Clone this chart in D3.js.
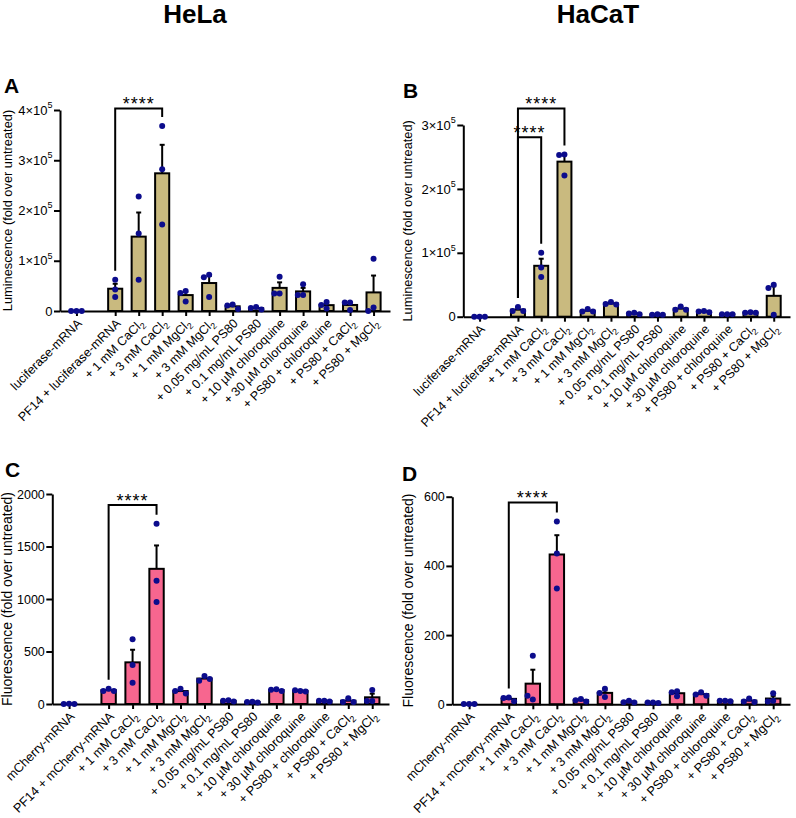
<!DOCTYPE html>
<html><head><meta charset="utf-8">
<script src="https://cdn.jsdelivr.net/npm/d3@7"></script>
<style>
body{margin:0;background:#fff}
svg{display:block}
text{font-family:"Liberation Sans",Arial,Helvetica,sans-serif;fill:#000}
</style>
</head><body>
<svg id="chart" width="796" height="818"></svg>
<script>
// ---------- DATA ----------
const lucCategories = ["luciferase-mRNA","PF14 + luciferase-mRNA","+ 1 mM CaCl_2","+ 3 mM CaCl_2","+ 1 mM MgCl_2","+ 3 mM MgCl_2","+ 0.05 mg/mL PS80","+ 0.1 mg/mL PS80","+ 10 µM chloroquine","+ 30 µM chloroquine","+ PS80 + chloroquine","+ PS80 + CaCl_2","+ PS80 + MgCl_2"];
const cherryCategories = ["mCherry-mRNA","PF14 + mCherry-mRNA","+ 1 mM CaCl_2","+ 3 mM CaCl_2","+ 1 mM MgCl_2","+ 3 mM MgCl_2","+ 0.05 mg/mL PS80","+ 0.1 mg/mL PS80","+ 10 µM chloroquine","+ 30 µM chloroquine","+ PS80 + chloroquine","+ PS80 + CaCl_2","+ PS80 + MgCl_2"];

// replicate values (3 per condition)
const helaLuc = [[0,0,0],[62000,43000,28000],[228000,154000,62000],[368000,282000,172000],[40000,36000,19000],[72000,67000,28000],[13000,11000,4000],[8000,6000,3000],[68000,35000,35000],[53000,32000,32000],[18000,12000,5000],[17000,17000,2000],[104000,7000,0]];
const hacatLuc = [[0,0,0],[15000,9000,9000],[100000,77000,62000],[254000,253000,221000],[12000,8000,8000],[23000,20000,19000],[6000,5000,4000],[4000,3000,3000],[16000,11000,11000],[9000,8000,7000],[4000,4000,4000],[7000,6000,6000],[50000,45000,3000]];
const helaCherry = [[2,1,1],[145,125,125],[616,371,203],[1717,1174,971],[145,125,100],[267,222,238],[35,30,25],[22,20,15],[140,135,125],[125,130,120],[32,30,25],[54,20,20],[133,29,29]];
const hacatCherry = [[1,1,1],[20,18,9],[140,14,25],[528,436,335],[15,12,8],[45,21,33],[10,6,5],[5,5,4],[38,35,23],[35,28,25],[10,10,9],[17,8,7],[32,10,8]];

const lucTicksA = [0,100000,200000,300000,400000];
const lucTicksB = [0,100000,200000,300000];
const cherryTicksC = [0,500,1000,1500,2000];
const cherryTicksD = [0,200,400,600];

// significance comparisons: [from index, to index, bracket level in data units, label]
const sigA = [[1,3,403000,"****"]];
const sigB = [[1,3,326000,"****"],[1,2,281000,"****"]];
const sigC = [[1,3,1895,"****"]];
const sigD = [[1,3,583,"****"]];

const cellTitles = ["HeLa","HaCaT"];

// ---------- STYLE / LAYOUT ----------
const tan = "#c9ba7f", pink = "#f7668f", dotColor = "#0c0c8c";
const svg = d3.select("#chart");

function supFmt(v){
  if (v === 0) return [["0",false]];
  if (v >= 100000) return [[String(v/100000)+"×10",false],["5",true]];
  return [[String(v),false]];
}

function drawPanel(cfg){
  const g = svg.append("g");
  const x = d3.scaleLinear().domain([-0.7, cfg.cats.length - 1 + 0.65 + 0.7]).range([cfg.x0, cfg.x1]);
  const slot = i => i === 0 ? 0 : i + 0.65;
  const y = d3.scaleLinear().domain([0, cfg.ticks[cfg.ticks.length-1]]).range([cfg.yBase, cfg.yTop]);
  const step = x(1) - x(0);
  const bw = step * 0.6;

  const stats = cfg.data.map((vals,i) => {
    const m = d3.mean(vals);
    const sem = d3.deviation(vals) / Math.sqrt(vals.length);
    return {i, vals, mean: m, sem: sem || 0, cx: x(slot(i))};
  });

  // bars
  g.selectAll("rect.bar").data(stats).join("rect")
    .attr("x", d => d.cx - bw/2).attr("width", bw)
    .attr("y", d => y(d.mean)).attr("height", d => y(0) - y(d.mean))
    .attr("fill", cfg.color).attr("stroke", "#000").attr("stroke-width", 2);

  // error bars (upward SEM)
  const eb = g.selectAll("g.eb").data(stats.filter(d => d.sem > 0)).join("g");
  eb.append("line").attr("x1", d => d.cx).attr("x2", d => d.cx)
    .attr("y1", d => y(d.mean)).attr("y2", d => y(d.mean + d.sem))
    .attr("stroke", "#000").attr("stroke-width", 2);
  eb.append("line").attr("x1", d => d.cx - 2.5).attr("x2", d => d.cx + 2.5)
    .attr("y1", d => y(d.mean + d.sem)).attr("y2", d => y(d.mean + d.sem))
    .attr("stroke", "#000").attr("stroke-width", 2);

  // y axis
  const ya = g.append("g").attr("transform", `translate(${cfg.x0},0)`)
    .call(d3.axisLeft(y).tickValues(cfg.ticks).tickSize(6).tickSizeOuter(0).tickPadding(2).tickFormat(""));
  ya.select(".domain").attr("stroke-width", 2).attr("stroke", "#000");
  ya.selectAll(".tick line").attr("stroke-width", 2).attr("stroke", "#000");
  ya.selectAll(".tick text").each(function(v){
    const t = d3.select(this).attr("font-size", cfg.tickFont).attr("fill", "#000").attr("x", -7.5);
    supFmt(v).forEach(([s, sup]) => {
      const ts = t.append("tspan").text(s);
      if (sup) ts.attr("font-size", 9).attr("dy", "-0.75em");
    });
  });

  // x axis
  const xa = g.append("g").attr("transform", `translate(0,${cfg.yBase})`)
    .call(d3.axisBottom(x).tickValues(cfg.cats.map((c,i) => slot(i))).tickSize(5).tickSizeOuter(0).tickFormat(""));
  xa.select(".domain").attr("stroke-width", 2).attr("stroke", "#000");
  xa.selectAll(".tick line").attr("stroke-width", 2).attr("stroke", "#000");

  // category labels
  cfg.cats.forEach((c,i) => {
    const t = g.append("text")
      .attr("transform", `translate(${x(slot(i)) + 3},${cfg.yBase + 10}) rotate(-45)`)
      .attr("text-anchor", "end").attr("font-size", cfg.catFont).attr("dy", "0.35em");
    const parts = c.split("_");
    t.append("tspan").text(parts[0]);
    if (parts[1]) t.append("tspan").text(parts[1]).attr("font-size", cfg.catFont * 0.7).attr("dy", "0.35em");
  });

  // points (simple swarm)
  stats.forEach(d => {
    const placed = [];
    const dstep = 5.3;
    d.vals.forEach(v => {
      const py = y(v);
      let off = 0;
      for (const o of [0, -dstep, dstep, -2*dstep, 2*dstep]) {
        if (placed.every(p => Math.hypot(p.x - o, p.y - py) >= dstep - 0.2)) { off = o; break; }
      }
      placed.push({x: off, y: py});
      g.append("circle").attr("cx", d.cx + off).attr("cy", py).attr("r", 3).attr("fill", dotColor);
    });
  });

  // significance brackets
  cfg.sig.forEach(([a, b, lvl, lab]) => {
    const xa1 = stats[a].cx, xb1 = stats[b].cx, yl = y(lvl);
    const top = s => y(Math.max(d3.max(s.vals), s.mean + s.sem)) - 9;
    g.append("path")
      .attr("d", `M${xa1},${top(stats[a])}V${yl}H${xb1}V${top(stats[b])}`)
      .attr("fill", "none").attr("stroke", "#000").attr("stroke-width", 2);
    g.append("text").attr("x", (xa1 + xb1)/2).attr("y", yl + 1.5)
      .attr("text-anchor", "middle").attr("font-size", 18).attr("letter-spacing", 1).text(lab);
  });

  // y-axis title
  g.append("text")
    .attr("transform", `translate(${cfg.ylabX},${(cfg.yTop + cfg.yBase)/2}) rotate(-90)`)
    .attr("text-anchor", "middle").attr("dy", "0.35em").attr("font-size", cfg.ylabFont).text(cfg.ylab);

  // panel letter
  g.append("text").attr("x", cfg.letterX).attr("y", cfg.letterY)
    .attr("font-size", 21).attr("font-weight", "bold").text(cfg.letter);
}

drawPanel({cats: lucCategories, data: helaLuc, ticks: lucTicksA, sig: sigA, color: tan, tickFont: 13, catFont: 12.5, ylabFont: 12.8,
  x0: 60, x1: 390, yTop: 110, yBase: 311, ylabX: 8, ylab: "Luminescence (fold over untreated)", letter: "A", letterX: 4, letterY: 93});
drawPanel({cats: lucCategories, data: hacatLuc, ticks: lucTicksB, sig: sigB, color: tan, tickFont: 13, catFont: 12.5, ylabFont: 12.8,
  x0: 463.3, x1: 790, yTop: 125, yBase: 316.7, ylabX: 408, ylab: "Luminescence (fold over untreated)", letter: "B", letterX: 403, letterY: 98});
drawPanel({cats: cherryCategories, data: helaCherry, ticks: cherryTicksC, sig: sigC, color: pink, tickFont: 12.5, catFont: 12.8, ylabFont: 14,
  x0: 52.3, x1: 389, yTop: 494, yBase: 704, ylabX: 7, ylab: "Fluorescence (fold over untreated)", letter: "C", letterX: 5, letterY: 477});
drawPanel({cats: cherryCategories, data: hacatCherry, ticks: cherryTicksD, sig: sigD, color: pink, tickFont: 12.5, catFont: 12.8, ylabFont: 14,
  x0: 452.3, x1: 790, yTop: 496.7, yBase: 704.3, ylabX: 408, ylab: "Fluorescence (fold over untreated)", letter: "D", letterX: 402, letterY: 481});

svg.selectAll("text.title").data(cellTitles).join("text")
  .attr("class", "title")
  .attr("x", (d,i) => i === 0 ? 195 : 598).attr("y", 23)
  .attr("text-anchor", "middle").attr("font-size", 26).attr("font-weight", "bold").text(d => d);
</script>
</body></html>
